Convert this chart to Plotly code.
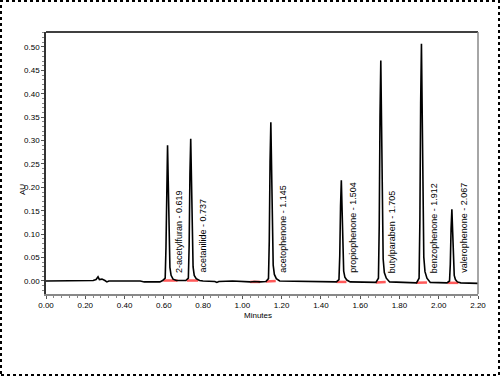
import plotly.graph_objects as go

# Peak table
peak_names = ["2-acetylfuran", "acetanilide", "acetophenone", "propiophenone",
              "butylparaben", "benzophenone", "valerophenone"]
peak_rt = [0.619, 0.737, 1.145, 1.504, 1.705, 1.912, 2.067]
peak_label_rt = ["0.619", "0.737", "1.145", "1.504", "1.705", "1.912", "2.067"]

# Chromatogram trace (minutes, AU)
time_min = [
    0.000, 0.220, 0.240, 0.255, 0.265, 0.272, 0.285, 0.300, 0.310, 0.320, 0.480, 0.500, 0.580,
    0.594, 0.607, 0.611, 0.615, 0.619, 0.623, 0.627, 0.631, 0.637, 0.647, 0.664,
    0.712, 0.725, 0.729, 0.733, 0.737, 0.741, 0.745, 0.749, 0.755, 0.765, 0.782,
    0.800, 0.860, 0.870, 0.880, 0.950, 1.040, 1.060, 1.090,
    1.120, 1.133, 1.137, 1.141, 1.145, 1.149, 1.153, 1.157, 1.163, 1.173, 1.190,
    1.300, 1.420, 1.440,
    1.479, 1.492, 1.496, 1.500, 1.504, 1.508, 1.512, 1.516, 1.522, 1.532, 1.549,
    1.620,
    1.680, 1.693, 1.697, 1.701, 1.705, 1.709, 1.713, 1.717, 1.723, 1.733, 1.750,
    1.820,
    1.887, 1.900, 1.904, 1.908, 1.912, 1.916, 1.920, 1.924, 1.930, 1.940, 1.957,
    2.000,
    2.042, 2.055, 2.059, 2.063, 2.067, 2.071, 2.075, 2.079, 2.085, 2.095, 2.112,
    2.200,
]
absorbance = [
    0.000, 0.000, 0.001, 0.003, 0.009, 0.003, 0.004, 0.001, -0.002, 0.000, 0.000, -0.002, -0.002,
    0.001, 0.006, 0.072, 0.218, 0.290, 0.203, 0.087, 0.029, 0.012, 0.004, 0.001,
    0.001, 0.006, 0.076, 0.228, 0.304, 0.213, 0.091, 0.030, 0.012, 0.005, 0.001,
    0.000, -0.001, -0.003, -0.001, 0.000, -0.002, -0.001, -0.002,
    -0.001, 0.005, 0.085, 0.254, 0.339, 0.237, 0.102, 0.034, 0.014, 0.005, 0.000,
    -0.001, -0.002, -0.002,
    -0.002, 0.003, 0.054, 0.161, 0.215, 0.150, 0.064, 0.021, 0.008, 0.002, -0.002,
    -0.003,
    -0.003, 0.006, 0.118, 0.353, 0.471, 0.330, 0.141, 0.047, 0.018, 0.006, -0.002,
    -0.003,
    -0.004, 0.006, 0.127, 0.380, 0.507, 0.355, 0.152, 0.051, 0.020, 0.006, -0.003,
    -0.004,
    -0.004, 0.000, 0.036, 0.113, 0.153, 0.105, 0.043, 0.012, 0.003, -0.002, -0.004,
    -0.005,
]

# Integration baselines (start, end, AU at start, AU at end)
int_start = [0.597, 0.717, 1.040, 1.120, 1.480, 1.680, 1.885, 2.045]
int_end = [0.670, 0.775, 1.090, 1.170, 1.530, 1.730, 1.940, 2.100]
int_y0 = [0.001, 0.001, -0.002, -0.001, -0.002, -0.003, -0.004, -0.004]
int_y1 = [0.001, 0.001, -0.002, 0.000, -0.002, -0.002, -0.003, -0.004]

W, H = 500, 376
ML, MR, MT, MB = 46, 22, 32, 82
PW, PH = W - ML - MR, H - MT - MB

fig = go.Figure()

bx, by = [], []
for s, e, a, b in zip(int_start, int_end, int_y0, int_y1):
    bx += [s, e, None]
    by += [a, b, None]
fig.add_trace(go.Scatter(x=bx, y=by, mode="lines",
                         line=dict(color="#ff5a5a", width=2.5), hoverinfo="skip"))

fig.add_trace(go.Scatter(x=time_min, y=absorbance, mode="lines",
                         line=dict(color="#000000", width=1.6)))

FAM = "Liberation Sans Narrow, Arial Narrow, Liberation Sans, Arial"
font_tick = dict(family=FAM, size=8, color="#000")

for name, rt, lab in zip(peak_names, peak_rt, peak_label_rt):
    fig.add_annotation(x=rt, y=0.013, xref="x", yref="y", text=f"{name} - {lab}",
                       textangle=-90, showarrow=False, xanchor="center", yanchor="bottom",
                       xshift=12, font=dict(family=FAM, size=9, color="#000"))

fig.add_annotation(x=(258 - ML) / PW, y=1 - (315 - MT) / PH,
                   xref="paper", yref="paper", text="Minutes", showarrow=False,
                   font=dict(family=FAM, size=8, color="#000"), xanchor="center", yanchor="middle")
fig.add_annotation(x=(22 - ML) / PW, y=1 - (190 - MT) / PH, xref="paper", yref="paper",
                   text="AU", textangle=-90, showarrow=False, font=dict(family=FAM, size=8, color="#000"),
                   xanchor="center", yanchor="middle")

# top and right frame lines
fig.add_shape(type="line", xref="paper", yref="paper", x0=0, x1=1, y0=1, y1=1,
              line=dict(color="#000", width=1.5))
fig.add_shape(type="line", xref="paper", yref="paper", x0=1, x1=1, y0=0, y1=1,
              line=dict(color="#888", width=1.5))
# dotted outer border
fig.add_shape(type="rect", xref="paper", yref="paper",
              x0=(1 - ML) / PW, x1=(W - 1 - ML) / PW,
              y0=1 - (H - 1 - MT) / PH, y1=1 - (1 - MT) / PH,
              line=dict(color="#000", width=2, dash="dot"), layer="below")

fig.update_layout(
    width=W, height=H, margin=dict(l=ML, r=MR, t=MT, b=MB),
    paper_bgcolor="white", plot_bgcolor="white", showlegend=False,
    xaxis=dict(range=[0, 2.2], dtick=0.2, tick0=0, tickformat=".2f", showgrid=False,
               zeroline=False, showline=True, linecolor="#888", linewidth=1.5,
               ticks="outside", ticklen=3, tickcolor="#555", tickfont=font_tick,
               minor=dict(dtick=0.04, ticks="outside", ticklen=2, tickcolor="#888")),
    yaxis=dict(range=[-0.0278, 0.532], dtick=0.05, tick0=0, tickformat=".2f", showgrid=False,
               zeroline=False, showline=True, linecolor="#333", linewidth=1.5,
               ticks="outside", ticklen=3, tickcolor="#555", tickfont=font_tick,
               minor=dict(dtick=0.01, ticks="outside", ticklen=2, tickcolor="#888")),
)

fig.write_html("out.html", config={"displayModeBar": False},
               post_script="document.body.style.margin='0px';document.body.style.overflow='hidden';")
